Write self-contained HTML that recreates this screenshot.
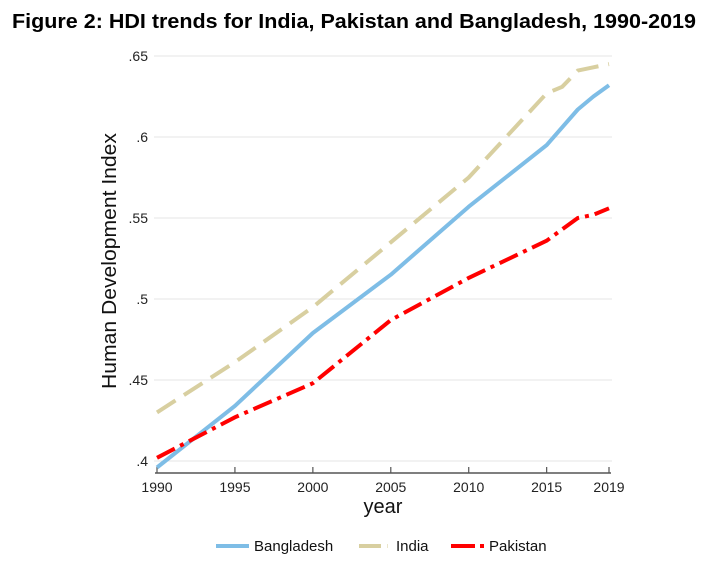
<!DOCTYPE html>
<html><head><meta charset="utf-8"><style>
body{margin:0;background:#fff;}
svg{display:block;font-family:"Liberation Sans",Arial,sans-serif;}
</style></head><body>
<svg id="chart" width="716" height="564">
<text x="12" y="28" font-size="20" font-weight="bold" fill="#000" textLength="684" lengthAdjust="spacingAndGlyphs">Figure 2: HDI trends for India, Pakistan and Bangladesh, 1990-2019</text>
<g id="grid"></g>
<g id="axes"></g>
<g id="series"></g>
<text transform="translate(116,261) rotate(-90)" text-anchor="middle" font-size="20" fill="#111" textLength="256" lengthAdjust="spacingAndGlyphs">Human Development Index</text>
<text x="383" y="513" text-anchor="middle" font-size="20" fill="#111">year</text>
<g>
<g><line x1="216" y1="546" x2="249" y2="546" stroke="#7ebde6" stroke-width="4"/><text x="254" y="551" font-size="15" fill="#111">Bangladesh</text></g>
<g><line x1="359" y1="546" x2="381" y2="546" stroke="#d8cfa0" stroke-width="4"/><line x1="387" y1="546" x2="388" y2="546" stroke="#ebe6cc" stroke-width="4"/><text x="396" y="551" font-size="15" fill="#111">India</text></g>
<g><line x1="451" y1="546" x2="475" y2="546" stroke="#ff0000" stroke-width="4"/><line x1="480" y1="546" x2="484" y2="546" stroke="#ff0000" stroke-width="4"/><text x="489" y="551" font-size="15" fill="#111">Pakistan</text></g>
</g>
</svg>
<script>
const years=[1990,1995,2000,2005,2010,2015,2016,2017,2018,2019];
const bangladesh=[0.396,0.434,0.479,0.515,0.557,0.595,0.606,0.617,0.625,0.632];
const india=[0.430,0.461,0.495,0.535,0.575,0.627,0.631,0.641,0.643,0.645];
const pakistan=[0.402,0.427,0.448,0.487,0.513,0.536,0.543,0.550,0.552,0.556];
const yTicks=[0.4,0.45,0.5,0.55,0.6,0.65];
const yTickLabels=[".4",".45",".5",".55",".6",".65"];
const xTicks=[1990,1995,2000,2005,2010,2015,2019];
const NS="http://www.w3.org/2000/svg";
const x=v=>157+(v-1990)*(609-157)/29;
const y=v=>461-(v-0.4)*(461-56)/0.25;
function mk(t,a,p){const e=document.createElementNS(NS,t);for(const k in a)e.setAttribute(k,a[k]);p.appendChild(e);return e;}
const grid=document.getElementById('grid'),axes=document.getElementById('axes'),ser=document.getElementById('series');
yTicks.forEach((t,i)=>{
 const g=mk('line',{x1:154,x2:612,y1:y(t),y2:y(t),stroke:'#e4e4e4','stroke-width':1},grid);
 
 
 const l=mk('text',{x:148,y:y(t)+5,'text-anchor':'end','font-size':14,fill:'#222'},axes);
 l.textContent=yTickLabels[i];
 
 
});
const ax=mk('line',{x1:155,x2:611,y1:473,y2:473,stroke:'#555','stroke-width':1.5},axes);


xTicks.forEach(t=>{
 const tk=mk('line',{x1:x(t),x2:x(t),y1:467,y2:473,stroke:'#555','stroke-width':1.2},axes);
 
 
 const l=mk('text',{x:x(t),y:492,'text-anchor':'middle','font-size':14,fill:'#222'},axes);
 l.textContent=t;
 
 
});
function path(vals){return vals.map((v,i)=>(i?'L':'M')+x(years[i]).toFixed(1)+','+y(v).toFixed(1)).join(' ');}
const pi=mk('path',{d:path(india),fill:'none',stroke:'#d8cfa0','stroke-width':4,'stroke-dasharray':'22 10'},ser);


const pb=mk('path',{d:path(bangladesh),fill:'none',stroke:'#7ebde6','stroke-width':4,'stroke-linejoin':'round'},ser);


const pp=mk('path',{d:path(pakistan),fill:'none',stroke:'#ff0000','stroke-width':4,'stroke-dasharray':'20 6 4 6'},ser);


</script>
</body></html>
